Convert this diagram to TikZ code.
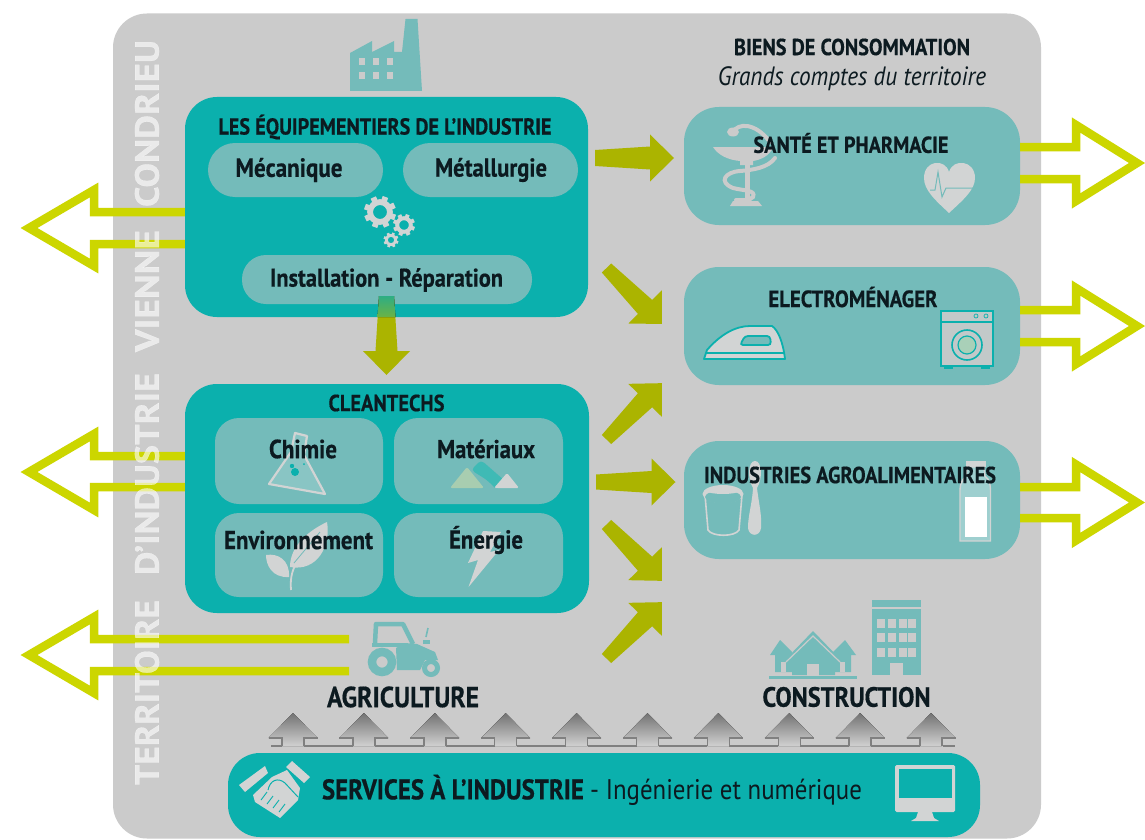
\documentclass[tikz,border=0pt]{standalone}
\usepackage{fontspec}
\usepackage{graphicx}
\setmainfont{PT Sans}[BoldFeatures={FakeBold=0.5}]
\usetikzlibrary{calc}
\definecolor{panelgrey}{HTML}{CBCBCB}
\definecolor{tealdark}{HTML}{0BB0AD}
\definecolor{tealpale}{HTML}{74BBBA}
\definecolor{lime}{HTML}{CCD600}
\definecolor{olive}{HTML}{ABB400}
\definecolor{ink}{HTML}{0C1A20}
\definecolor{iconlight}{HTML}{D2D4D4}
\definecolor{arrowgreen}{HTML}{2DAE84}
\definecolor{pilegreen}{HTML}{A8CDB0}
\definecolor{pileteal}{HTML}{3FBAB5}
\definecolor{washgreen}{HTML}{A9D0B8}
\tikzset{
  panel/.style={fill=panelgrey,rounded corners=34pt,inner sep=0pt},
  bigbox/.style={fill=tealdark,rounded corners=32pt,inner sep=0pt},
  palebox/.style={fill=tealpale,rounded corners=35pt,inner sep=0pt},
  pill/.style={fill=tealpale,inner sep=0pt},
  outarrow/.style={draw=lime,line width=8.5pt,miter limit=10},
  lbl/.style={text=ink,inner sep=0pt,anchor=center},
  vtext/.style={rotate=90,text=white,text opacity=.6,inner sep=0pt,font=\bfseries},
  greyfill/.style={fill=panelgrey},
  lightfill/.style={fill=iconlight},
  iconteal/.style={fill=tealpale},
}
\newcommand{\fit}[2]{\scalebox{1}[1.14]{\resizebox{#1pt}{!}{#2}}}
% generic thick arrow, tail and tip are named coordinates
\newcommand{\fatarrow}[4][olive]{%
  \path let \p1=($(#3)-(#2)$),\n1={atan2(\y1,\x1)},\n2={veclen(\x1,\y1)} in
    \pgfextra{\xdef\fatang{\n1}\xdef\fatlenraw{\n2}};
  \pgfmathsetmacro{\fatlen}{\fatlenraw}
  \pgfmathsetmacro{\fatneck}{\fatlen-24}
  \pgfmathsetmacro{\fatn}{#4+3.5}
  \fill[#1,shift={(#2)},rotate=\fatang]
    (0pt,-#4pt) -- (\fatneck pt,-\fatn pt) -- (\fatneck pt,-23.5pt) -- (\fatlen pt,0pt)
    -- (\fatneck pt,23.5pt) -- (\fatneck pt,\fatn pt) -- (0pt,#4pt) -- cycle;
}
\newcommand{\gear}[4]{% x y R colour
  \foreach \a in {0,45,...,315}{
    \pgfmathsetmacro{\ga}{\a+20}
    \draw[#4,line width=#3*0.36pt] (#1,#2) ++(\ga:#3*0.62) -- ++(\ga:#3*0.38);
  }
  \draw[#4,line width=#3*0.36pt] (#1,#2) circle (#3*0.62);
}
\begin{document}
\begin{tikzpicture}[x=1pt,y=-1pt]
\useasboundingbox (0,0) rectangle (1145,840);
\fill[white] (0,0) rectangle (1145,840);
% panel
\node[panel,minimum width=928pt,minimum height=825pt] (pan) at (577,426) {};

% boxes
\node[bigbox,minimum width=403pt,minimum height=220pt] (eq) at (386.5,207) {};
\node[bigbox,minimum width=404pt,minimum height=229pt] (ct) at (387,498.5) {};
\node[palebox,minimum width=336pt,minimum height=118pt] (sante) at (852,166) {};
\node[palebox,minimum width=336pt,minimum height=118pt] (elec) at (852,326) {};
\node[palebox,minimum width=336pt,minimum height=118pt] (agro) at (852,500) {};
\node[bigbox,minimum width=752pt,minimum height=84pt] (serv) at (604,795) {};

\coordinate (agriL1) at (349,639);
\coordinate (agriL2) at (349,671);
\draw[outarrow] (eq.west |- 0,212) -- (94,212) -- (94,190) -- (29,228) -- (94,266) -- (94,244) -- (eq.west |- 0,244);
\draw[outarrow] (ct.west |- 0,456) -- (94,456) -- (94,434) -- (29,472) -- (94,510) -- (94,487) -- (ct.west |- 0,487);
\draw[outarrow] (agriL1) -- (94,639) -- (94,617) -- (29,655) -- (94,693) -- (94,671) -- (agriL2);
\draw[outarrow] (sante.east |- 0,147) -- (1076,147) -- (1076,125) -- (1137,163) -- (1076,201) -- (1076,179) -- (sante.east |- 0,179);
\draw[outarrow] (elec.east |- 0,310) -- (1076,310) -- (1076,288) -- (1137,326) -- (1076,364) -- (1076,342) -- (elec.east |- 0,342);
\draw[outarrow] (agro.east |- 0,487) -- (1076,487) -- (1076,464.5) -- (1137,502.5) -- (1076,540.5) -- (1076,518) -- (agro.east |- 0,518);

% vertical text
\node[vtext] (vt1) at (147,692.5) {\resizebox{185pt}{24pt}{TERRITOIRE}};
\node[vtext] (vt2) at (147,474) {\resizebox{202pt}{24pt}{D’INDUSTRIE}};
\node[vtext] (vt3) at (147,291) {\resizebox{122pt}{24pt}{VIENNE}};
\node[vtext] (vt4) at (147,123.5) {\resizebox{167pt}{24pt}{CONDRIEU}};

% pills
\node[pill,rounded corners=27pt,minimum width=175pt,minimum height=54pt] (pmec) at (295.5,170) {};
\node[pill,rounded corners=27pt,minimum width=175pt,minimum height=54pt] (pmet) at (490.5,170) {};
\node[pill,rounded corners=24pt,minimum width=290pt,minimum height=49pt] (pins) at (387,279.5) {};
\node[pill,rounded corners=24pt,minimum width=168pt,minimum height=86pt] (pchi) at (299,461) {};
\node[pill,rounded corners=24pt,minimum width=169pt,minimum height=86pt] (pmat) at (478.5,461) {};
\node[pill,rounded corners=24pt,minimum width=168pt,minimum height=84pt] (penv) at (299,555) {};
\node[pill,rounded corners=24pt,minimum width=169pt,minimum height=84pt] (pene) at (478.5,555) {};

% thick olive arrows
\coordinate (a1t) at (595,158);   \coordinate (a1h) at (674,158);
\coordinate (a2t) at (606.5,268); \coordinate (a2h) at (662,324);
\coordinate (a3t) at (606.5,439.5); \coordinate (a3h) at (662,383);
\coordinate (a4t) at (596,482);   \coordinate (a4h) at (675.5,482);
\coordinate (a5t) at (606.5,524.5); \coordinate (a5h) at (662,581);
\coordinate (a6t) at (606.5,658.5); \coordinate (a6h) at (662,602);
\coordinate (a7t) at (386.5,296); \coordinate (a7h) at (386.5,375);
\fatarrow{a1t}{a1h}{8}
\fatarrow{a2t}{a2h}{6.5}
\fatarrow{a3t}{a3h}{6.5}
\fatarrow{a4t}{a4h}{7.5}
\fatarrow{a5t}{a5h}{6.5}
\fatarrow{a6t}{a6h}{6.5}
\fatarrow{a7t}{a7h}{7.5}
\fill[top color=arrowgreen,bottom color=olive!60!tealdark] (379,296) -- (394,296) -- (395.5,317) -- (377.5,317) -- cycle;

% factory
\fill[iconteal] (350,91) -- (350,53) -- (372,41) -- (372,52) -- (394,41) -- (394,52) -- (402,52) -- (405.5,19) -- (417.5,19) -- (422,91) -- cycle;
\foreach \wx in {362,376,390}\foreach \wy in {62,76}
  \fill[greyfill] (\wx-3,\wy-3.5) rectangle (\wx+3,\wy+3.5);

% gears
\gear{380}{212}{16}{iconlight}
\gear{404}{225}{11}{iconlight}
\gear{391}{240}{7.5}{iconlight}

% flask
\draw[iconlight,fill=tealpale!85!white,line width=2.2pt,line join=round]
  (295,433) -- (307,436) -- (304,455) -- (325,494) -- (269,484) -- (291,452) -- cycle;
\fill[tealdark] (295,472) circle (4); \fill[tealdark] (292,466) circle (2.2);\fill[tealdark] (304,464) circle (1);
% material piles
\fill[pilegreen,rounded corners=2pt] (450,488) -- (467,467) -- (484,488) -- cycle;
\fill[pileteal,rounded corners=4pt] (471,470) -- (481,460) -- (505,481) -- (497,490) -- (487,480) -- cycle;
\fill[iconlight,rounded corners=1.5pt] (494,488) -- (507,473) -- (519,488) -- cycle;
% plant
\fill[iconlight] (290,567) .. controls (290,545) and (310,530) .. (327,522) .. controls (331,545) and (318,572) .. cycle;
\fill[iconlight] (289,577) .. controls (272,578) and (266,565) .. (266,555) .. controls (278,553) and (290,560) .. cycle;
\draw[iconlight,line width=1.8pt] (291,590) .. controls (290,578) and (292,568) .. (300,558);
\draw[tealpale,line width=.8pt] (294,563) -- (320,532);
% lightning
\fill[iconlight] (483,531) -- (501,532) -- (490,552) -- (499,550) -- (468.5,587) -- (478,560) -- (468,563) -- cycle;

% asclepius
\fill[greyfill] (713,147) -- (773,147) .. controls (770,156) and (760,160) .. (753,161) -- (753,165) -- (740,165) -- (740,161) .. controls (728,160) and (718,155) .. (713,147) -- cycle;
\fill[greyfill] (744.5,165) rectangle (750,200);
\fill[greyfill] (730,206) -- (733,201) -- (758,201) -- (762,206) -- cycle;
\draw[panelgrey,line width=4pt,line cap=round] (733,132) .. controls (738,123) and (755,122) .. (770,142);
\fill[greyfill] (733,132) ellipse (6 and 4.5);
\draw[panelgrey,line width=4pt,line cap=round] (775,158) .. controls (768,168) and (752,170) .. (740,171) .. controls (725,172) and (718,182) .. (733,188) .. controls (745,191) and (756,190) .. (753,197) .. controls (750,201) and (742,200) .. (736,200);
% heart
\fill[iconlight] (949,213) .. controls (935,200) and (924,190) .. (924,178) .. controls (924,160) and (945,158) .. (949,172) .. controls (953,158) and (975,160) .. (975,178) .. controls (975,190) and (963,200) .. cycle;
\draw[tealpale,line width=1pt] (930,190) -- (935,190) -- (938,172) -- (942,197) -- (946,188) -- (973,188);
% iron
\fill[iconlight,draw=tealdark,line width=1.8pt,line join=round] (704,359) -- (707,350) .. controls (720,335) and (735,326) .. (750,326) -- (772,326) .. controls (778,330) and (783,342) .. (785,359) -- cycle;
\draw[tealdark,line width=1.4pt] (706,353) -- (785,353);
\fill[fill=tealpale,draw=tealdark,line width=1.8pt,rounded corners=3pt] (740,345) -- (745,336) -- (770,336) -- (771,345) -- cycle;
% washer
\fill[fill=panelgrey!90!tealpale,draw=tealdark,line width=1.6pt] (941,311) rectangle (993,366);
\draw[tealdark,line width=1.2pt] (941,322) -- (993,322);
\draw[tealdark,line width=.7pt] (976,316) circle (2) (986,316) circle (2);
\fill[tealdark] (944,366) rectangle (953,368.5); \fill[tealdark] (981,366) rectangle (990,368.5);
\draw[tealdark,line width=1.6pt] (967,345) circle (15);
\draw[tealdark,fill=washgreen,line width=1.2pt] (967,345) circle (9);
% yogurt
\draw[iconlight,line width=1.6pt] (705,495) -- (708,530) .. controls (712,537) and (735,537) .. (739,530) -- (742,495);
\fill[iconlight] (723,494) ellipse (20.5 and 9);
\fill[tealpale] (723,497) ellipse (18 and 6.5);
\fill[iconlight] (705,491) .. controls (712,487) and (734,487) .. (741,491) .. controls (734,495) and (712,495) .. cycle;
% spoon
\fill[iconlight] (755,461) .. controls (762,461) and (763,478) .. (757,488) .. controls (759,505) and (762,515) .. (761,528) .. controls (760,537) and (749,537) .. (748,528) .. controls (748,515) and (752,505) .. (753,488) .. controls (747,478) and (748,461) .. cycle;
% bottle
\fill[fill=tealpale!70!white,draw=iconlight,line width=1.4pt] (967,467) -- (984,467) -- (985,476) .. controls (990,480) and (990,484) .. (990.5,490) -- (990.5,541) -- (960,541) -- (960,490) .. controls (960,484) and (962,480) .. (966,476) -- cycle;
\fill[iconlight] (965.5,461) rectangle (985.5,467);
\fill[white] (964.5,497) rectangle (987,537);
% tractor
\draw[tealpale,line width=4.5pt,line join=round] (375,643) -- (376,624) -- (403,624) -- (413,644);
\fill[iconteal] (372,643) rectangle (406,647);
\fill[iconteal] (397,670) -- (396,648) -- (405,643) -- (417,644) -- (435,652) -- (438,660) -- (425,660) -- (420,670) -- cycle;
\draw[tealpale,line width=8.5pt] (382,662) circle (10);
\draw[tealpale,line width=5pt] (431,668) circle (6.5);
\fill[iconteal] (423,640) rectangle (430,644);
\draw[tealpale,line width=1.6pt] (426,637) -- (428,628);
% houses
\fill[iconteal] (769,676) rectangle (857,678.5);
\fill[iconteal] (770,655) -- (780,640) -- (792,652) -- (792,672) -- (775,672) -- (775,655) -- cycle;
\fill[iconteal] (856,655) -- (845,640) -- (833,652) -- (833,672) -- (851,672) -- (851,655) -- cycle;
\fill[panelgrey] (781,662) rectangle (786,672);
\fill[panelgrey] (840,662) rectangle (845,672);
\fill[iconteal] (786,659) -- (813,631) -- (840,659) -- (835,660) -- (835,675) -- (792,675) -- (792,660) -- cycle;
\draw[panelgrey,line width=1.2pt] (786,662) -- (813,636) -- (840,662);
\fill[panelgrey] (807,664) rectangle (819,675.5);
% building
\fill[iconteal] (872,600) rectangle (921,606.5);
\fill[iconteal] (872,609) rectangle (921,675);
\foreach \wx in {881,892,902.5,912}\foreach \wy in {623,637,652}
  \fill[panelgrey] (\wx-4,\wy-4.5) rectangle (\wx+4,\wy+4.5);
\fill[panelgrey] (890,663) rectangle (902.5,676);
% grey arrows row
\foreach \i in {0,...,9}{
  \pgfmathsetmacro{\cx}{293+\i*70.9}
  \fill[top color=gray!90!black,bottom color=panelgrey!90!white]
    (\cx,713) -- (\cx+24.5,738) -- (\cx+11,738) -- (\cx+11,746) -- (\cx-11,746) -- (\cx-11,738) -- (\cx-24.5,738) -- cycle;
  \draw[gray,line width=1.5pt] (\cx-24.5,738) -- (\cx-11,738) -- (\cx-11,746);
  \draw[gray,line width=1.5pt] (\cx+24.5,738) -- (\cx+11,738) -- (\cx+11,746);
  \ifnum\i<9
    \draw[gray,line width=1.5pt] (\cx+11,746) -- (\cx+59.9,746);
  \fi
}
\draw[gray,line width=1.5pt] (282,746) -- (271,746);
\draw[gray,line width=1.5pt] (943,746) -- (955,746) ;
% handshake
\fill[iconlight] (265,766) -- (268,773) -- (245,792) -- (239,785) -- cycle;
\fill[iconlight] (292,761) -- (310,777) -- (304,783) -- (286,767) -- cycle;
\fill[iconlight] (272,777) -- (287,770) -- (300,788) -- (298,800) -- (280,818) -- (255,802) -- (253,795) -- cycle;
\draw[tealdark,line width=1pt] (268,790) .. controls (270,780) and (278,777) .. (285,783) -- (298,797);
\foreach \s in {0,1,2,3}{
  \draw[tealdark,line width=.9pt] (261+\s*6,800+\s*4) -- (267+\s*6,792+\s*4);
}
% monitor
\fill[iconlight,rounded corners=1.5pt] (895,765) rectangle (955,812);
\fill[tealdark] (898.5,769) rectangle (951.5,798);
\fill[iconlight] (918,812) -- (932,812) -- (934,818) -- (939,821) -- (911,821) -- (916,818) -- cycle;

% texts
\node[lbl] (t1) at (852,47) {\fit{236}{\bfseries BIENS DE CONSOMMATION}};
\node[lbl] (t2) at (852,79) {\fit{268}{\itshape Grands comptes du territoire}};
\node[lbl] (t3) at (851,143) {\fit{195}{\bfseries SANTÉ ET PHARMACIE}};
\node[lbl] (t4) at (853,297) {\fit{169}{\bfseries ELECTROMÉNAGER}};
\node[lbl] (t5) at (850,475) {\fit{292}{\bfseries INDUSTRIES AGROALIMENTAIRES}};
\node[lbl] (t6) at (385,127) {\fit{333}{\bfseries LES ÉQUIPEMENTIERS DE L’INDUSTRIE}};
\node[lbl] (t7) at (289,170) {\fit{107}{\bfseries Mécanique}};
\node[lbl] (t8) at (491,170) {\fit{112}{\bfseries Métallurgie}};
\node[lbl] (t9) at (386.5,280) {\fit{233}{\bfseries Installation - Réparation}};
\node[lbl] (t10) at (386.5,403) {\fit{116}{\bfseries CLEANTECHS}};
\node[lbl] (t11) at (303,449) {\fit{68}{\bfseries Chimie}};
\node[lbl] (t12) at (486,449) {\fit{98}{\bfseries Matériaux}};
\node[lbl] (t13) at (298.5,540) {\fit{149}{\bfseries Environnement}};
\node[lbl] (t14) at (486,540) {\fit{74}{\bfseries Énergie}};
\node[lbl] (t15) at (403,697) {\fit{152}{\bfseries AGRICULTURE}};
\node[lbl] (t16) at (846.5,697) {\fit{168}{\bfseries CONSTRUCTION}};
\node[lbl] (t17) at (592,790) {\fit{540}{\bfseries SERVICES À L’INDUSTRIE \mdseries- Ingénierie et numérique}};
\end{tikzpicture}
\end{document}
